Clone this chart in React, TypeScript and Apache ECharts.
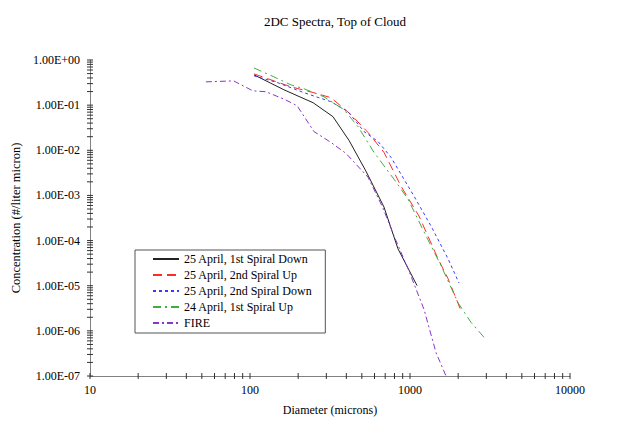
import React, { useEffect, useRef } from "react";
import * as echarts from "echarts";

const titleText = "2DC Spectra, Top of Cloud";
const xName = "Diameter (microns)";
const yName = "Concentration (#/liter micron)";

const xTickLabels = ["10", "100", "1000", "10000"];
const yTickLabels = ["1.00E-07", "1.00E-06", "1.00E-05", "1.00E-04", "1.00E-03", "1.00E-02", "1.00E-01", "1.00E+00"];

const seriesNames = [
  "25 April, 1st Spiral Down",
  "25 April, 2nd Spiral Up",
  "25 April, 2nd Spiral Down",
  "24 April, 1st Spiral Up",
  "FIRE",
];

const blackD = [106, 163, 248, 330, 416, 531, 688, 841, 1106];
const blackC = [0.468, 0.219, 0.113, 0.0556, 0.0165, 0.00343, 5.52e-4, 6.58e-5, 1.01e-5];

const redD = [106, 180, 251, 321, 428, 547, 688, 879, 1138, 1496, 1728, 2084];
const redC = [0.492, 0.255, 0.188, 0.146, 0.0615, 0.0247, 0.00897, 0.0016, 3.5e-4, 3.96e-5, 1.44e-5, 2.8e-6];

const blueD = [106, 150, 218, 321, 410, 516, 631, 761, 1059, 1352, 1728, 2024];
const blueC = [0.445, 0.312, 0.188, 0.119, 0.0717, 0.026, 0.0157, 0.00697, 9.65e-4, 2.11e-4, 3.96e-5, 1.15e-5];

const greenD = [106, 141, 180, 218, 290, 387, 473, 596, 794, 972, 1223, 1563, 1995, 2404, 2985];
const greenC = [0.667, 0.423, 0.282, 0.23, 0.153, 0.0793, 0.0335, 0.00897, 0.00229, 8.28e-4, 1.56e-4, 2.78e-5, 4.2e-6, 1.55e-6, 6.4e-7];

const fireD = [53, 79, 104, 126, 166, 197, 251, 321, 398, 547, 678, 794, 972, 1223, 1454, 1679];
const fireC = [0.328, 0.345, 0.208, 0.198, 0.132, 0.0971, 0.026, 0.0149, 0.00853, 0.00253, 5.25e-4, 1.27e-4, 2.39e-5, 3.0e-6, 3.3e-7, 1.0e-7];

const X_MIN = 10;
const X_MAX = 10000;
const Y_MIN = 1e-7;
const Y_MAX = 1;

// tick positions (1..9 x each decade)
const xTickValues: number[] = [];
for (let e = 1; e <= 3; e++) for (let k = 1; k <= 9; k++) xTickValues.push(k * Math.pow(10, e));
xTickValues.push(10000);
const yTickValues: number[] = [];
for (let e = -7; e <= -1; e++) for (let k = 1; k <= 9; k++) yTickValues.push(k * Math.pow(10, e));
yTickValues.push(1);

const zip = (a: number[], b: number[]) => a.map((v, i) => [v, b[i]]);

const FONT = "Liberation Serif, DejaVu Serif, serif";

const GRID_LEFT = 90;
const GRID_RIGHT = 66;
const GRID_TOP = 60;
const GRID_BOTTOM = 43;

export default function App() {
  const ref = useRef<HTMLDivElement>(null);
  useEffect(() => {
    if (!ref.current) return;
    const chart = echarts.init(ref.current, null, { renderer: "svg" });
    const mk = (name: string, d: number[], c: number[], color: string, type: any) => ({
      name,
      type: "line",
      data: zip(d, c),
      symbol: "none",
      showSymbol: false,
      lineStyle: { color, width: 1, type },
      itemStyle: { color },
      clip: true,
    });
    const plotCenter = GRID_LEFT + (636 - GRID_LEFT - GRID_RIGHT) / 2;
    const option: any = {
      animation: false,
      backgroundColor: "#ffffff",
      textStyle: { fontFamily: FONT },
      title: {
        text: titleText,
        left: plotCenter,
        textAlign: "center",
        top: 10,
        textStyle: { fontFamily: FONT, fontSize: 13, fontWeight: "normal", color: "#000" },
      },
      grid: { left: GRID_LEFT, right: GRID_RIGHT, top: GRID_TOP, bottom: GRID_BOTTOM, containLabel: false },
      legend: {
        orient: "vertical",
        left: 135,
        top: 250,
        data: seriesNames,
        itemWidth: 26,
        itemHeight: 14,
        itemGap: 4,
        padding: [3, 13, 4, 17],
        borderColor: "#555",
        borderWidth: 1,
        backgroundColor: "#fff",
        itemStyle: { opacity: 0 },
        textStyle: { fontFamily: FONT, fontSize: 12, color: "#000" },
      },
      xAxis: {
        type: "log",
        logBase: 10,
        min: X_MIN,
        max: X_MAX,
        name: xName,
        nameLocation: "middle",
        nameGap: 28,
        nameTextStyle: { fontFamily: FONT, fontSize: 12, color: "#000" },
        axisLine: { show: true, lineStyle: { color: "#808080", width: 1 } },
        axisTick: { show: false },
        splitLine: { show: false },
        axisLabel: {
          margin: 8,
          fontFamily: FONT,
          fontSize: 12,
          color: "#000",
          formatter: (v: number) => xTickLabels[Math.round(Math.log10(v)) - 1] ?? "",
        },
      },
      yAxis: {
        type: "log",
        logBase: 10,
        min: Y_MIN,
        max: Y_MAX,
        name: yName,
        nameLocation: "middle",
        nameGap: 65,
        nameRotate: 90,
        nameTextStyle: { fontFamily: FONT, fontSize: 12.5, color: "#000" },
        axisLine: { show: true, lineStyle: { color: "#808080", width: 1 } },
        axisTick: { show: false },
        splitLine: { show: false },
        axisLabel: {
          margin: 10,
          fontFamily: FONT,
          fontSize: 12,
          color: "#000",
          formatter: (v: number) => yTickLabels[Math.round(Math.log10(v)) + 7] ?? "",
        },
      },
      series: [
        mk(seriesNames[0], blackD, blackC, "#222222", "solid"),
        mk(seriesNames[1], redD, redC, "#ff2a2a", [9, 5]),
        mk(seriesNames[2], blueD, blueC, "#3a3aff", [3, 3]),
        mk(seriesNames[3], greenD, greenC, "#3fae3f", [8, 4, 2, 4]),
        mk(seriesNames[4], fireD, fireC, "#8a35c8", [6, 3, 2, 3]),
        {
          type: "custom",
          name: "xticks",
          silent: true,
          clip: false,
          data: xTickValues.map((v) => [v, Y_MIN]),
          renderItem: (_p: any, api: any) => {
            const pt = api.coord([api.value(0), Y_MIN]);
            return {
              type: "line",
              shape: { x1: pt[0], y1: pt[1] - 3, x2: pt[0], y2: pt[1] + 3 },
              style: { stroke: "#333", lineWidth: 1 },
            };
          },
        },
        {
          type: "custom",
          name: "yticks",
          silent: true,
          clip: false,
          data: yTickValues.map((v) => [X_MIN, v]),
          renderItem: (_p: any, api: any) => {
            const pt = api.coord([X_MIN, api.value(1)]);
            return {
              type: "line",
              shape: { x1: pt[0] - 3, y1: pt[1], x2: pt[0] + 3, y2: pt[1] },
              style: { stroke: "#333", lineWidth: 1 },
            };
          },
        },
      ],
    };
    chart.setOption(option);
    return () => chart.dispose();
  }, []);
  return (
    <div
      ref={ref}
      style={{ position: "fixed", left: 0, top: 0, width: 636, height: 421, background: "#fff" }}
    />
  );
}
